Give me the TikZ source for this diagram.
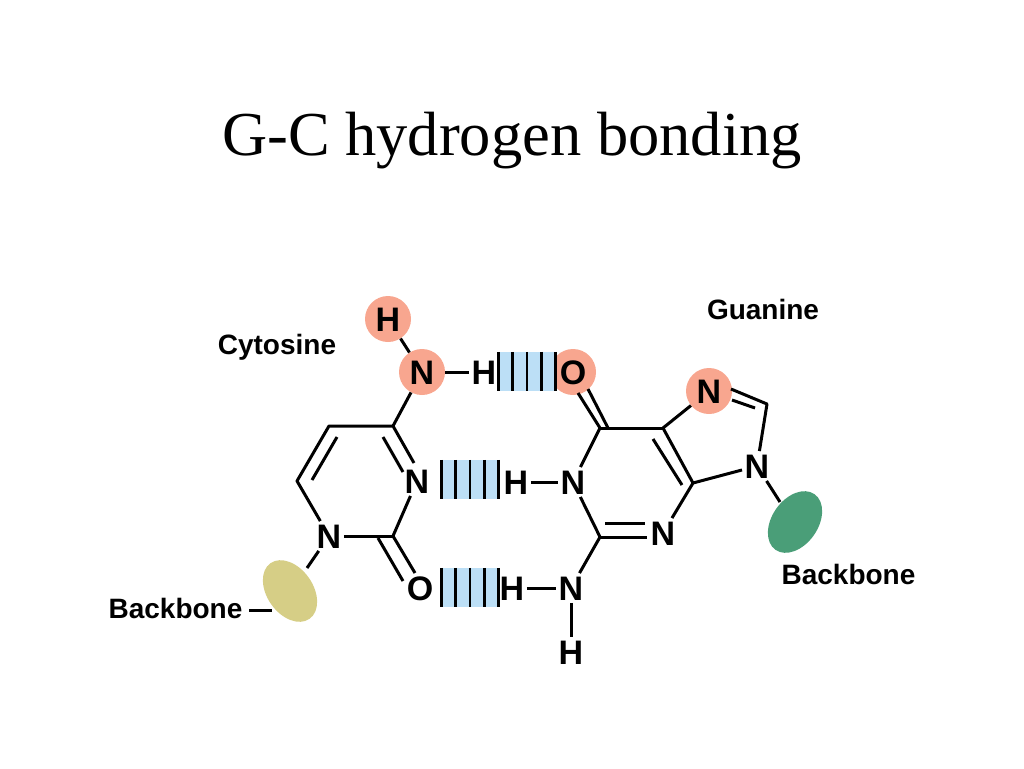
\documentclass[tikz,border=0pt]{standalone}
\usepackage{fontspec}
\setmainfont{Liberation Serif}
\setsansfont{Liberation Sans}
\usetikzlibrary{calc,shapes.geometric}
\definecolor{salmon}{HTML}{F8A68F}
\definecolor{hbondblue}{HTML}{BCDFF6}
\definecolor{khaki}{HTML}{D6CE86}
\definecolor{dnagreen}{HTML}{4A9E78}

\begin{document}
\begin{tikzpicture}[x=1pt,y=-1pt,
  atom/.style={font=\fontsize{34}{34}\sffamily\bfseries,text height=24.5pt,text depth=0pt,inner sep=2.5pt},
  hilite/.style={atom,circle,fill=salmon,minimum size=46pt,inner sep=0pt},
  label/.style={font=\fontsize{28}{30}\sffamily\bfseries,inner sep=0pt,anchor=base},
  bond/.style={line width=3pt},
  hbar/.style={fill=hbondblue,minimum width=57pt,minimum height=39pt,inner sep=0pt},
  tick/.style={line width=2.8pt},
  sugar/.style={ellipse,minimum width=68pt,minimum height=46pt,inner sep=0pt}]
\useasboundingbox (0,0) rectangle (1024,768);

\node[font=\fontsize{62.5}{70}\selectfont,anchor=base] (title) at (512,155) {G-C hydrogen bonding};

\node[label] (cytlabel) at (277,354) {Cytosine};
\node[label] (guanlabel) at (763,319) {Guanine};
\node[label] (backL) at (175.5,618) {Backbone};
\node[label] (backR) at (848.5,584) {Backbone};

% salmon atoms go under the bars
\node[hilite] (CytH) at (388,319) {H};
\node[hilite] (CytN) at (422,372) {N};
\node[hilite] (GuaO) at (573,372) {};
\node[hilite] (GuaN7) at (709,391) {N};

% hydrogen bonds
\foreach \name/\px/\py in {barA/527/371.5,barB/470/479.5,barC/470/587.5}{
  \node[hbar] (\name) at (\px,\py) {};
  \foreach \t in {0,.25,.5,.75,1}
    \draw[tick] ($(\name.north west)!\t!(\name.north east)$) -- ($(\name.south west)!\t!(\name.south east)$);
}
\node[atom] (GuaOtext) at (573,372) {O};

% cytosine
\node[atom] (CytH2) at (484,372) {H};
\node[atom] (CytN3) at (417,481) {N};
\node[atom] (CytN1) at (329,536) {N};
\node[atom] (CytO) at (420,588) {O};
\coordinate (C4) at (393,426);
\coordinate (C5) at (329,426);
\coordinate (C6) at (297,481);
\coordinate (C2) at (393,536);
\coordinate (C5in) at (337,437);
\coordinate (C6in) at (312,480);
\coordinate (C4in) at (383,437);
\coordinate (N3in) at (403,472);
\coordinate (N3out) at (414,463);
\coordinate (C2in) at (378,538);
\coordinate (Oin) at (403,581);
\coordinate (Oout) at (415,573);

\draw[bond] (CytH) -- (CytN);
\draw[bond] (CytN) -- (CytH2);
\draw[bond] (CytN) -- (C4);
\draw[bond,line join=round] (N3out) -- (C4) -- (C5) -- (C6) -- (CytN1);
\draw[bond] (C5in) -- (C6in);
\draw[bond] (C4in) -- (N3in);
\draw[bond] (CytN1) -- (C2);
\draw[bond] (C2) -- (CytN3);
\draw[bond] (C2) -- (Oout);
\draw[bond] (C2in) -- (Oin);

% guanine
\node[atom] (GuaH1) at (516,482) {H};
\node[atom] (GuaN1) at (573,482) {N};
\node[atom] (GuaN3) at (663,533) {N};
\node[atom] (GuaN9) at (757,466) {N};
\node[atom] (GuaH2) at (512,588) {H};
\node[atom] (GuaN2) at (571,588) {N};
\node[atom] (GuaH3) at (571,652) {H};
\coordinate (G6) at (600,428);
\coordinate (G5) at (663,428);
\coordinate (G4) at (693,483);
\coordinate (G2) at (600,537);
\coordinate (G8) at (767,404);
\coordinate (G6out) at (608,428);
\coordinate (Oa) at (588,389);
\coordinate (Ob) at (578,393);
\coordinate (G2in) at (605,523);
\coordinate (N3inG) at (645,523);
\coordinate (G2out) at (647,537);
\coordinate (G5in) at (653,439);
\coordinate (G4in) at (682,485);
\coordinate (N7a) at (731,389);
\coordinate (N7b) at (732,400);
\coordinate (G8in) at (755,408);

\draw[bond] (G6) -- (Ob);
\draw[bond] (G6out) -- (Oa);
\draw[bond] (GuaN1) -- (G6);
\draw[bond] (G6) -- (G5);
\draw[bond] (G5) -- (G4);
\draw[bond] (G5in) -- (G4in);
\draw[bond] (G5) -- (GuaN7);
\draw[bond,line join=round] (N7a) -- (G8) -- (GuaN9);
\draw[bond] (N7b) -- (G8in);
\draw[bond] (GuaN9) -- (G4);
\draw[bond] (G4) -- (GuaN3);
\draw[bond] (GuaN1) -- (G2);
\draw[bond] (G2) -- (G2out);
\draw[bond] (G2in) -- (N3inG);
\draw[bond] (G2) -- (GuaN2);
\draw[bond] (GuaH1) -- (GuaN1);
\draw[bond] (GuaH2) -- (GuaN2);
\draw[bond] (GuaN2) -- (GuaH3);

% sugars
\node[sugar,fill=khaki,rotate=-55] (sugarL) at (290,591) {};
\node[sugar,fill=dnagreen,rotate=55] (sugarR) at (795,522) {};
\coordinate (sugarLgap) at (307,568);
\coordinate (sugarRgap) at (780,502);
\coordinate (dashL) at (249,610);
\coordinate (dashR) at (272,610);
\draw[bond] (CytN1) -- (sugarLgap);
\draw[bond] (GuaN9) -- (sugarRgap);
\draw[bond] (dashL) -- (dashR);

\end{tikzpicture}
\end{document}
